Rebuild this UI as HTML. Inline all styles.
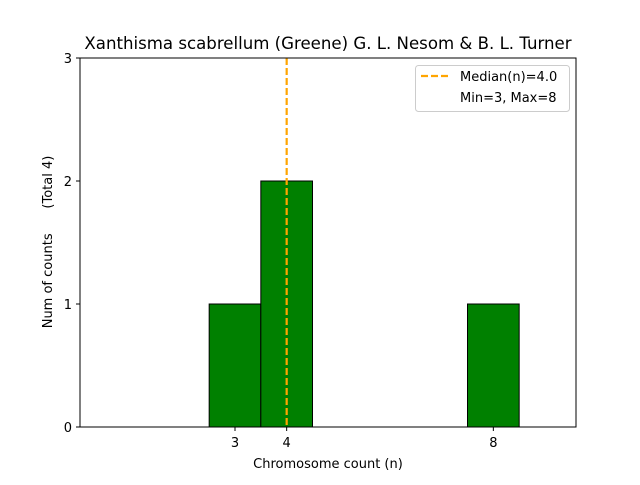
<!DOCTYPE html>
<html><head><meta charset="utf-8"><style>
body{margin:0;background:#fff;font-family:"Liberation Sans","DejaVu Sans",sans-serif}
</style></head><body>
<svg width="640" height="480" xmlns="http://www.w3.org/2000/svg" font-family="'DejaVu Sans','Liberation Sans',sans-serif">
<text x="328" y="49" text-anchor="middle" font-size="16.6">Xanthisma scabrellum (Greene) G. L. Nesom &amp; B. L. Turner</text>
<g id="bars"></g>
<g id="xt"></g><g id="yt"></g>
<line id="med" stroke="orange" stroke-width="2.2" stroke-dasharray="7,3"/>
<rect x="80" y="58" width="496" height="369" fill="none" stroke="#000" stroke-width="1"/>
<text x="328" y="468" text-anchor="middle" font-size="13">Chromosome count (n)</text>
<text transform="translate(52,242) rotate(-90)" text-anchor="middle" font-size="13" style="white-space:pre" xml:space="preserve">Num of counts      (Total 4)</text>
<g>
<rect x="415.5" y="65.5" width="154" height="46" rx="3" fill="#fff" stroke="#ccc"/>
<line x1="421" y1="76" x2="449" y2="76" stroke="orange" stroke-width="2.2" stroke-dasharray="7,3"/>
<text x="460" y="81" font-size="13">Median(n)=4.0</text>
<text x="460" y="102" font-size="13">Min=3, Max=8</text>
</g>
</svg>
<script>
const categories=[3,4,8];
const counts=[1,2,1];
const yTicks=[0,1,2,3];
const xTicks=[3,4,8];
const median=4.0;
const X0=80,X1=576,Y0=427,Y1=58,xmin=0,xmax=9.6,ymax=3;
const sx=v=>X0+(v-xmin)/(xmax-xmin)*(X1-X0);
const sy=v=>Y0-v/ymax*(Y0-Y1);
const NS="http://www.w3.org/2000/svg";
const bars=document.getElementById('bars');
categories.forEach((c,i)=>{
 const r=document.createElementNS(NS,'rect');
 r.setAttribute('x',sx(c-0.5));r.setAttribute('width',sx(c+0.5)-sx(c-0.5));
 r.setAttribute('y',sy(counts[i]));r.setAttribute('height',sy(0)-sy(counts[i]));
 r.setAttribute('fill','green');r.setAttribute('stroke','#000');
 
 
 bars.appendChild(r);
});
const xt=document.getElementById('xt');
xTicks.forEach(t=>{
 const g=document.createElementNS(NS,'g');
 
 
 g.innerHTML=`<line x1="${sx(t)}" x2="${sx(t)}" y1="427" y2="431" stroke="#000"/><text x="${sx(t)}" y="447" text-anchor="middle" font-size="13">${t}</text>`;
 xt.appendChild(g);
});
const yt=document.getElementById('yt');
yTicks.forEach(t=>{
 const g=document.createElementNS(NS,'g');
 
 
 g.innerHTML=`<line x1="76" x2="80" y1="${sy(t)}" y2="${sy(t)}" stroke="#000"/><text x="72" y="${sy(t)+5}" text-anchor="end" font-size="13">${t}</text>`;
 yt.appendChild(g);
});
const m=document.getElementById('med');
m.setAttribute('x1',sx(median));m.setAttribute('x2',sx(median));
m.setAttribute('y1',Y1);m.setAttribute('y2',Y0);
</script>
</body></html>
